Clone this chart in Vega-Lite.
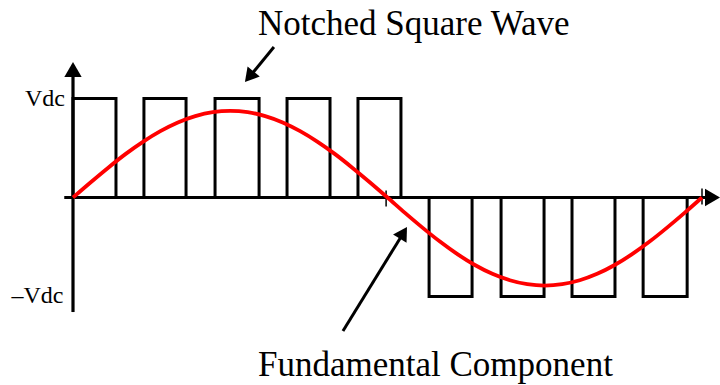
{
  "$schema": "https://vega.github.io/schema/vega-lite/v6.json",
  "width": 720,
  "height": 385,
  "padding": 0,
  "autosize": {"type": "fit", "contains": "padding"},
  "background": "white",
  "config": {"view": {"stroke": null}},
  "datasets": {
    "pulses": [
      {"start": 0, "end": 24.6, "level": 1},
      {"start": 40.6, "end": 64.7, "level": 1},
      {"start": 81.3, "end": 106.5, "level": 1},
      {"start": 122.5, "end": 147.1, "level": 1},
      {"start": 163.1, "end": 187.7, "level": 1},
      {"start": 203.8, "end": 228.4, "level": -1},
      {"start": 245.0, "end": 269.6, "level": -1},
      {"start": 285.6, "end": 310.2, "level": -1},
      {"start": 326.3, "end": 351.5, "level": -1}
    ],
    "fundamental": [
      {"angle": 0, "v": 0}, {"angle": 10, "v": 0.152}, {"angle": 20, "v": 0.299},
      {"angle": 30, "v": 0.438}, {"angle": 40, "v": 0.562}, {"angle": 50, "v": 0.670},
      {"angle": 60, "v": 0.758}, {"angle": 70, "v": 0.822}, {"angle": 80, "v": 0.862},
      {"angle": 90, "v": 0.875}, {"angle": 100, "v": 0.862}, {"angle": 110, "v": 0.822},
      {"angle": 120, "v": 0.758}, {"angle": 130, "v": 0.670}, {"angle": 140, "v": 0.562},
      {"angle": 150, "v": 0.438}, {"angle": 160, "v": 0.299}, {"angle": 170, "v": 0.152},
      {"angle": 180, "v": 0}, {"angle": 190, "v": -0.155}, {"angle": 200, "v": -0.304},
      {"angle": 210, "v": -0.445}, {"angle": 220, "v": -0.572}, {"angle": 230, "v": -0.682},
      {"angle": 240, "v": -0.771}, {"angle": 250, "v": -0.836}, {"angle": 260, "v": -0.876},
      {"angle": 270, "v": -0.89}, {"angle": 280, "v": -0.876}, {"angle": 290, "v": -0.836},
      {"angle": 300, "v": -0.771}, {"angle": 310, "v": -0.682}, {"angle": 320, "v": -0.572},
      {"angle": 330, "v": -0.445}, {"angle": 340, "v": -0.304}, {"angle": 350, "v": -0.155},
      {"angle": 360, "v": 0}
    ],
    "axes": [
      {"x": -5, "x2": 364.5, "y": 0, "y2": 0},
      {"x": 0, "x2": 0, "y": -1.157, "y2": 1.25}
    ],
    "ticks": [
      {"x": 179.2, "y": 0.07, "y2": -0.09},
      {"x": 360, "y": 0.09, "y2": -0.07}
    ],
    "pointers": [
      {"x": 115.0, "y": 1.52, "x2": 102.9, "y2": 1.26},
      {"x": 154.5, "y": -1.348, "x2": 187.6, "y2": -0.401}
    ],
    "axisHeads": [
      {"x": 0, "y": 1.293, "dir": 0},
      {"x": 366.0, "y": 0, "dir": 90}
    ],
    "pointerHeads": [
      {"x": 100.9, "y": 1.22, "dir": 219.6},
      {"x": 189.1, "y": -0.357, "dir": 31.6}
    ],
    "titles": [
      {"x": 105.9, "y": 1.641, "label": "Notched Square Wave"},
      {"x": 105.9, "y": -1.803, "label": "Fundamental Component"}
    ],
    "levels": [
      {"x": -4.6, "y": 0.924, "label": "Vdc"},
      {"x": -5.5, "y": -1.066, "label": "–Vdc"}
    ]
  },
  "layer": [
    {
      "data": {"name": "pulses"},
      "mark": {"type": "rect", "fillOpacity": 0, "stroke": "black", "strokeWidth": 3, "strokeJoin": "miter"},
      "encoding": {
        "x": {"field": "start", "type": "quantitative", "scale": {"domain": [-41.78, 370.3], "nice": false, "zero": false}, "axis": null},
        "x2": {"field": "end"},
        "y": {"field": "level", "type": "quantitative", "scale": {"domain": [-1.894, 1.995], "nice": false, "zero": false}, "axis": null},
        "y2": {"datum": 0}
      }
    },
    {
      "data": {"name": "axes"},
      "mark": {"type": "rule", "color": "black", "strokeWidth": 3.2},
      "encoding": {
        "x": {"field": "x", "type": "quantitative"},
        "x2": {"field": "x2"},
        "y": {"field": "y", "type": "quantitative"},
        "y2": {"field": "y2"}
      }
    },
    {
      "data": {"name": "ticks"},
      "mark": {"type": "rule", "color": "black", "strokeWidth": 1.5},
      "encoding": {
        "x": {"field": "x", "type": "quantitative"},
        "y": {"field": "y", "type": "quantitative"},
        "y2": {"field": "y2"}
      }
    },
    {
      "data": {"name": "fundamental"},
      "mark": {"type": "line", "color": "#ff0000", "strokeWidth": 3.8, "interpolate": "monotone"},
      "encoding": {
        "x": {"field": "angle", "type": "quantitative"},
        "y": {"field": "v", "type": "quantitative"}
      }
    },
    {
      "data": {"name": "pointers"},
      "mark": {"type": "rule", "color": "black", "strokeWidth": 3},
      "encoding": {
        "x": {"field": "x", "type": "quantitative"},
        "x2": {"field": "x2"},
        "y": {"field": "y", "type": "quantitative"},
        "y2": {"field": "y2"}
      }
    },
    {
      "data": {"name": "axisHeads"},
      "mark": {"type": "point", "shape": "triangle-up", "filled": true, "color": "black", "opacity": 1, "size": 300},
      "encoding": {
        "x": {"field": "x", "type": "quantitative"},
        "y": {"field": "y", "type": "quantitative"},
        "angle": {"field": "dir", "type": "quantitative", "scale": null}
      }
    },
    {
      "data": {"name": "pointerHeads"},
      "mark": {"type": "point", "shape": "triangle-up", "filled": true, "color": "black", "opacity": 1, "size": 250},
      "encoding": {
        "x": {"field": "x", "type": "quantitative"},
        "y": {"field": "y", "type": "quantitative"},
        "angle": {"field": "dir", "type": "quantitative", "scale": null}
      }
    },
    {
      "data": {"name": "titles"},
      "mark": {"type": "text", "align": "left", "baseline": "alphabetic", "font": "Liberation Serif", "fontSize": 35, "color": "black"},
      "encoding": {
        "x": {"field": "x", "type": "quantitative"},
        "y": {"field": "y", "type": "quantitative"},
        "text": {"field": "label"}
      }
    },
    {
      "data": {"name": "levels"},
      "mark": {"type": "text", "align": "right", "baseline": "alphabetic", "font": "Liberation Serif", "fontSize": 24, "color": "black"},
      "encoding": {
        "x": {"field": "x", "type": "quantitative"},
        "y": {"field": "y", "type": "quantitative"},
        "text": {"field": "label"}
      }
    }
  ]
}
